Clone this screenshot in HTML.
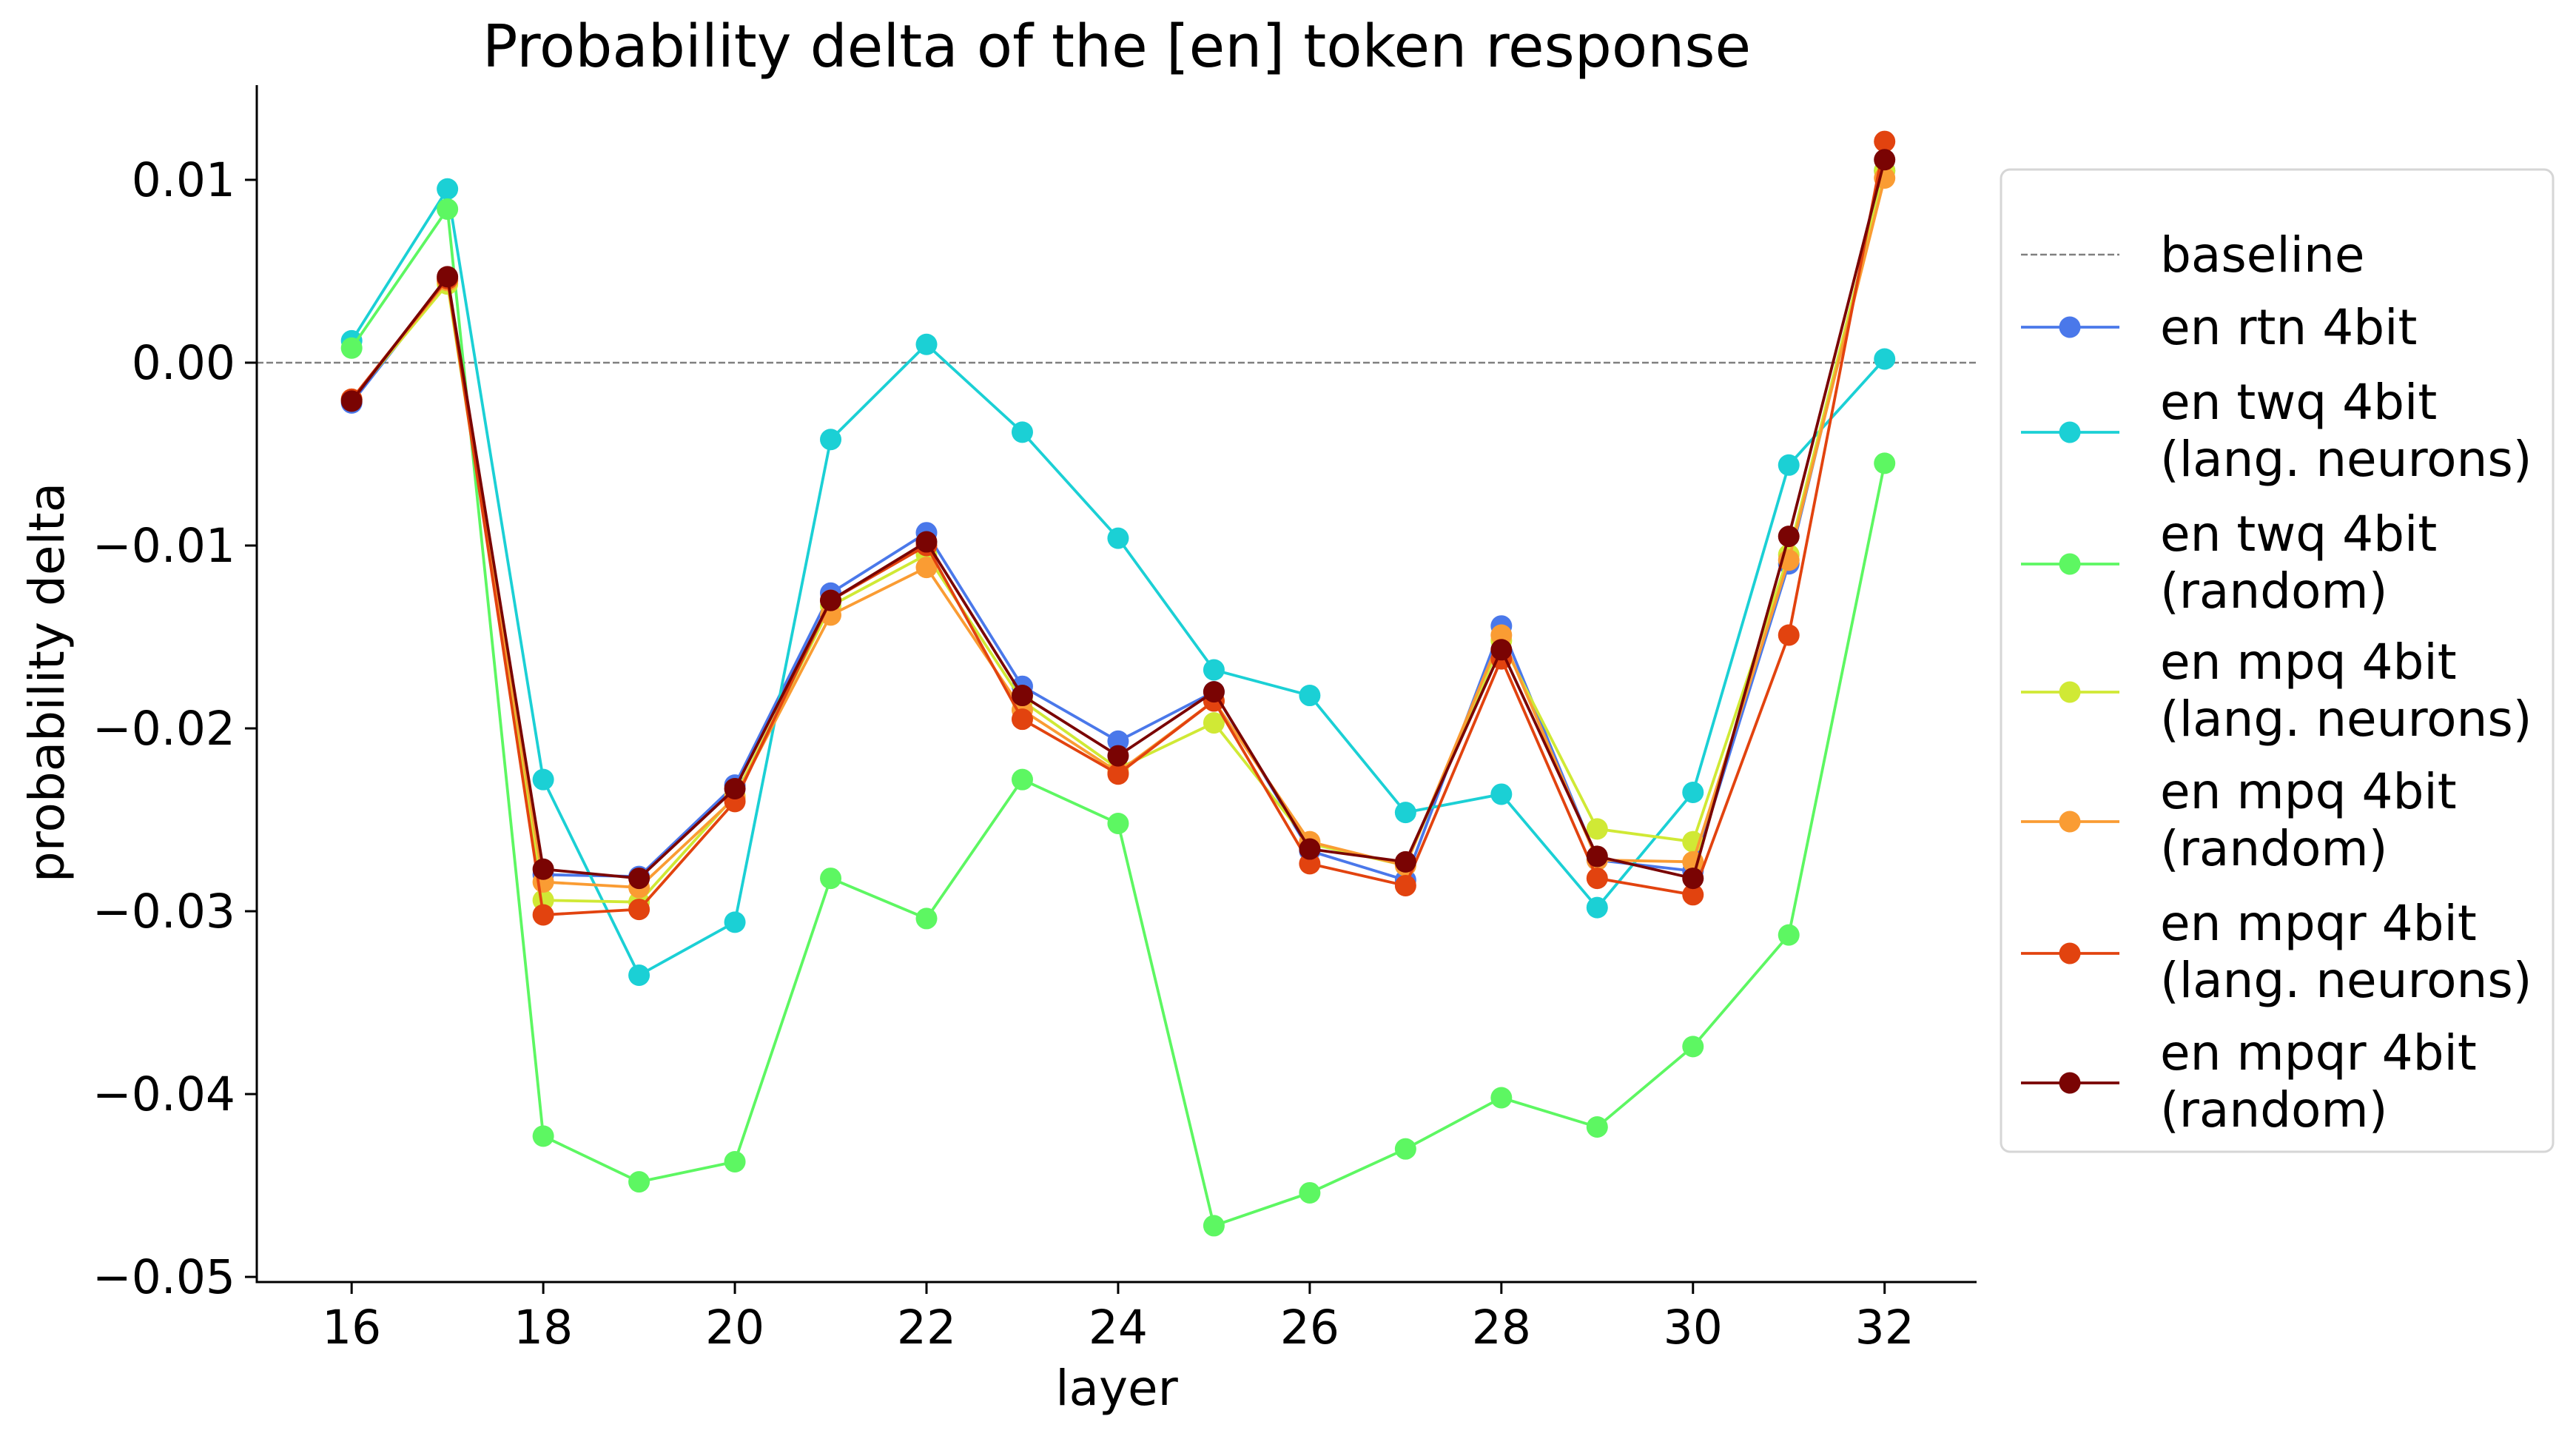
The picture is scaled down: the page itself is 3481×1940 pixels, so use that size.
<!DOCTYPE html>
<html><head><meta charset="utf-8"><style>
html,body{margin:0;padding:0;background:#fff}
svg{display:block;font-family:"DejaVu Sans","Liberation Sans",sans-serif}
</style></head><body>
<svg id="chart" width="3481" height="1940" viewBox="0 0 3481 1940" xmlns="http://www.w3.org/2000/svg">
<rect width="3481" height="1940" fill="#fff"/>
<text x="1509" y="90" font-size="79" text-anchor="middle">Probability delta of the [en] token response</text>
<text x="1509" y="1898" font-size="66" text-anchor="middle">layer</text>
<text transform="translate(86,922) rotate(-90)" font-size="66" text-anchor="middle">probability delta</text>
<g id="plot"></g>
<g id="axes"></g>
<g id="legend"></g>
</svg>
<script>
const layers = [16,17,18,19,20,21,22,23,24,25,26,27,28,29,30,31,32];
const xTicks = [16,18,20,22,24,26,28,30,32];
const yTicks = [0.01,0.00,-0.01,-0.02,-0.03,-0.04,-0.05];
const yTickLabels = ["0.01","0.00","\u22120.01","\u22120.02","\u22120.03","\u22120.04","\u22120.05"];
const seriesNames = ["en rtn 4bit","en twq 4bit\n(lang. neurons)","en twq 4bit\n(random)","en mpq 4bit\n(lang. neurons)","en mpq 4bit\n(random)","en mpqr 4bit\n(lang. neurons)","en mpqr 4bit\n(random)"];
const seriesColors = ["#4a78ea","#1bd0d5","#5df762","#d0e935","#fa9c33","#e2430f","#7a0403"];
const rtn = [-0.0022,0.0045,-0.0280,-0.0281,-0.0231,-0.0126,-0.0093,-0.0177,-0.0207,-0.0180,-0.0267,-0.0283,-0.0144,-0.0272,-0.0278,-0.0110,0.0105];
const twqLang = [0.0012,0.0095,-0.0228,-0.0335,-0.0306,-0.0042,0.0010,-0.0038,-0.0096,-0.0168,-0.0182,-0.0246,-0.0236,-0.0298,-0.0235,-0.0056,0.0002];
const twqRand = [0.0008,0.0084,-0.0423,-0.0448,-0.0437,-0.0282,-0.0304,-0.0228,-0.0252,-0.0472,-0.0454,-0.0430,-0.0402,-0.0418,-0.0374,-0.0313,-0.0055];
const mpqLang = [-0.0020,0.0043,-0.0294,-0.0295,-0.0237,-0.0133,-0.0105,-0.0185,-0.0222,-0.0197,-0.0263,-0.0275,-0.0152,-0.0255,-0.0262,-0.0105,0.0105];
const mpqRand = [-0.0020,0.0045,-0.0284,-0.0287,-0.0238,-0.0138,-0.0112,-0.0190,-0.0224,-0.0185,-0.0262,-0.0275,-0.0149,-0.0272,-0.0273,-0.0108,0.0101];
const mpqrLang = [-0.0020,0.0046,-0.0302,-0.0299,-0.0240,-0.0130,-0.0100,-0.0195,-0.0225,-0.0185,-0.0274,-0.0286,-0.0162,-0.0282,-0.0291,-0.0149,0.0121];
const mpqrRand = [-0.0021,0.0047,-0.0277,-0.0282,-0.0233,-0.0130,-0.0098,-0.0182,-0.0215,-0.0180,-0.0266,-0.0273,-0.0157,-0.0270,-0.0282,-0.0095,0.0111];
const allSeries = [rtn,twqLang,twqRand,mpqLang,mpqRand,mpqrLang,mpqrRand];

const NS="http://www.w3.org/2000/svg";
const L=347,R=2671,T=115,B=1732;
const xMin=15.01,xMax=32.96,yMin=-0.05028,yMax=0.01518;
function sx(v){return L+(v-xMin)/(xMax-xMin)*(R-L);}
function sy(v){return B-(v-yMin)/(yMax-yMin)*(B-T);}
function mk(tag,attrs,parent){const e=document.createElementNS(NS,tag);for(const k in attrs)e.setAttribute(k,attrs[k]);parent.appendChild(e);return e;}
const plot=document.getElementById('plot'),axes=document.getElementById('axes'),leg=document.getElementById('legend');

const base=mk('line',{x1:L,x2:R,y1:sy(0),y2:sy(0),stroke:'#808080','stroke-width':2.5,'stroke-dasharray':'9,4'},plot);



allSeries.forEach((s,i)=>{
  const g=mk('g',{},plot);
  
  
  const pts=s.map((v,j)=>sx(layers[j])+','+sy(v)).join(' ');
  const pl=mk('polyline',{points:pts,fill:'none',stroke:seriesColors[i],'stroke-width':3.8},g);
  
  
  s.forEach((v,j)=>{
    const c=mk('circle',{cx:sx(layers[j]),cy:sy(v),r:14.5,fill:seriesColors[i]},g);
    
    
  });
});

const ls=mk('line',{x1:L,x2:L,y1:T,y2:B+1.5,stroke:'#000','stroke-width':3},axes);


const bs=mk('line',{x1:L-1.5,x2:R,y1:B,y2:B,stroke:'#000','stroke-width':3},axes);


xTicks.forEach(v=>{
  const t=mk('line',{x1:sx(v),x2:sx(v),y1:B,y2:B+16,stroke:'#000','stroke-width':3},axes);
  
  
  const tx=mk('text',{x:sx(v),y:1815,'font-size':63,'text-anchor':'middle'},axes);
  tx.textContent=String(v);
  
  
});
yTicks.forEach((v,i)=>{
  const t=mk('line',{x1:L-16,x2:L,y1:sy(v),y2:sy(v),stroke:'#000','stroke-width':3},axes);
  
  
  const tx=mk('text',{x:L-29,y:sy(v)+22,'font-size':63,'text-anchor':'end'},axes);
  tx.textContent=yTickLabels[i];
  
  
});

const box=mk('rect',{x:2704,y:229,width:746,height:1327,rx:12,fill:'#fff',stroke:'#d6d6d6','stroke-width':3},leg);


const be=mk('g',{},leg);


mk('line',{x1:2731,x2:2864,y1:344,y2:344,stroke:'#808080','stroke-width':2.5,'stroke-dasharray':'9,4'},be);
const bt=mk('text',{x:2919,y:367,'font-size':66},be);
bt.textContent='baseline';
const markY=[442,584,762,935,1110,1288,1463];
seriesNames.forEach((n,i)=>{
  const g=mk('g',{},leg);
  
  
  mk('line',{x1:2731,x2:2864,y1:markY[i],y2:markY[i],stroke:seriesColors[i],'stroke-width':3.8},g);
  mk('circle',{cx:2797,cy:markY[i],r:14.5,fill:seriesColors[i]},g);
  const lines=n.split('\n');
  lines.forEach((ln,k)=>{
    const off=lines.length===1?23:(k===0?-18:59);
    const t=mk('text',{x:2919,y:markY[i]+off,'font-size':66},g);
    t.textContent=ln;
  });
});
</script>
</body></html>
